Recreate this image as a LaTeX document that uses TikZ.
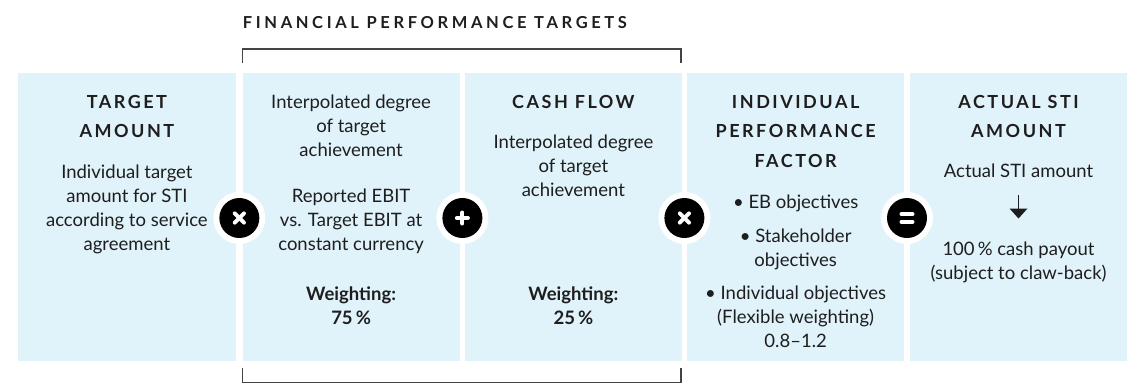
\documentclass[tikz,border=0pt]{standalone}
\usepackage{fontspec}
\setmainfont{Lato}
\newfontfamily\hdfont[LetterSpace=14]{Lato}
\newfontfamily\ttlfont[LetterSpace=22]{Lato}
\definecolor{panelblue}{HTML}{E0F2FA}
\definecolor{ink}{HTML}{1E1E1E}
\definecolor{brk}{HTML}{444444}
\tikzset{
  panel/.style={fill=panelblue, draw=none, minimum height=288pt, inner sep=0pt, outer sep=0pt},
  body/.style={anchor=base, inner sep=0pt, text=ink, font=\fontsize{18.5}{24}\selectfont},
  bodyb/.style={anchor=base, inner sep=0pt, text=ink, font=\fontsize{18.5}{24}\selectfont\bfseries},
  head/.style={anchor=base, inner sep=0pt, text=ink, font=\hdfont\fontsize{18}{24}\selectfont\bfseries},
  ttl/.style={anchor=base west, inner sep=0pt, text=ink, font=\ttlfont\fontsize{16.5}{20}\selectfont\bfseries},
  ring/.style={circle, fill=white, minimum size=52pt, inner sep=0pt},
  opdot/.style={circle, fill=black, minimum size=40pt, inner sep=0pt},
  sym/.style={draw=white, line width=4pt},
  bracketline/.style={draw=brk, line width=1.1pt},
}
\begin{document}
\begin{tikzpicture}[x=1pt,y=-1pt]
\useasboundingbox (0,0) rectangle (1130,384);
% panels
\node[panel, minimum width=218.4pt] (p1) at (126.9,216.7) {};
\node[panel, minimum width=216.8pt] (p2) at (351.1,216.7) {};
\node[panel, minimum width=216.2pt] (p3) at (573.4,216.7) {};
\node[panel, minimum width=216.7pt] (p4) at (795.65,216.7) {};
\node[panel, minimum width=217pt] (p5) at (1018.5,216.7) {};
% title
\node[ttl] (title) at (242.7,28) {FINANCIAL PERFORMANCE TARGETS};
% brackets
\coordinate (tA) at (242.7,63); \coordinate (tB) at (242.7,49);
\coordinate (tC) at (681,49); \coordinate (tD) at (681,63);
\draw[bracketline] (tA) -- (tB) -- (tC) -- (tD);
\coordinate (bA) at (242.7,368); \coordinate (bB) at (242.7,382.5);
\coordinate (bC) at (681,382.5); \coordinate (bD) at (681,368);
\draw[bracketline] (bA) -- (bB) -- (bC) -- (bD);
% panel 1
\node[head] (h1a) at (126.9,108) {TARGET};
\node[head] (h1b) at (126.9,137.5) {AMOUNT};
\foreach \t [count=\i from 0] in {Individual target,amount for STI,according to service,agreement}
  \node[body] (t1-\i) at (126.9,178+24*\i) {\t};
% panel 2
\foreach \t [count=\i from 0] in {Interpolated degree,of target,achievement}
  \node[body] (t2a-\i) at (351.1,108.5+24*\i) {\t};
\foreach \t [count=\i from 0] in {Reported EBIT,vs. Target EBIT at,constant currency}
  \node[body] (t2b-\i) at (351.1,202.5+24*\i) {\t};
\node[bodyb] (w2a) at (351.1,300.5) {Weighting:};
\node[bodyb] (w2b) at (351.1,324.5) {75\,\%};
% panel 3
\node[head] (h3a) at (573.4,108) {CASH FLOW};
\foreach \t [count=\i from 0] in {Interpolated degree,of target,achievement}
  \node[body] (t3-\i) at (573.4,148+24*\i) {\t};
\node[bodyb] (w3a) at (573.4,300.5) {Weighting:};
\node[bodyb] (w3b) at (573.4,324.5) {25\,\%};
% panel 4
\node[head] (h4a) at (795.65,108) {INDIVIDUAL};
\node[head] (h4b) at (795.65,137.5) {PERFORMANCE};
\node[head] (h4c) at (795.65,167) {FACTOR};
\node[body] (t4a) at (795.65,208.7) {• EB objectives};
\node[body] (t4b) at (795.65,242) {• Stakeholder};
\node[body] (t4c) at (795.65,266) {objectives};
\node[body] (t4d) at (795.65,299) {• Individual objectives};
\node[body] (t4e) at (795.65,323) {(Flexible weighting)};
\node[body] (t4f) at (795.65,347) {0.8–1.2};
% panel 5
\node[head] (h5a) at (1018.5,108) {ACTUAL STI};
\node[head] (h5b) at (1018.5,137.5) {AMOUNT};
\node[body] (t5a) at (1018.5,177) {Actual STI amount};
\coordinate (arA) at (1018.5,195);
\coordinate (arM) at (1018.5,209);
\coordinate (arL) at (1009.5,208.5);
\coordinate (arR) at (1027.5,208.5);
\coordinate (arB) at (1018.5,218.5);
\draw[draw=ink, line width=1.1pt] (arA) -- (arM);
\fill[ink] (arL) -- (arR) -- (arB) -- cycle;
\node[body] (t5b) at (1018.5,255) {100\,\% cash payout};
\node[body] (t5c) at (1018.5,279) {(subject to claw-back)};
% operators
\node[ring] (r1) at (239.35,218) {}; \node[opdot] (o1) at (r1) {};
\node[ring] (r2) at (462.4,218) {};  \node[opdot] (o2) at (r2) {};
\node[ring] (r3) at (684.4,218) {};  \node[opdot] (o3) at (r3) {};
\node[ring] (r4) at (907,218) {};    \node[opdot] (o4) at (r4) {};
% times
\draw[sym, line cap=round] ([xshift=-4.6pt,yshift=-4.6pt]o1.center) -- ([xshift=4.6pt,yshift=4.6pt]o1.center);
\draw[sym, line cap=round] ([xshift=-4.6pt,yshift=4.6pt]o1.center) -- ([xshift=4.6pt,yshift=-4.6pt]o1.center);
\draw[sym, line cap=round] ([xshift=-4.6pt,yshift=-4.6pt]o3.center) -- ([xshift=4.6pt,yshift=4.6pt]o3.center);
\draw[sym, line cap=round] ([xshift=-4.6pt,yshift=4.6pt]o3.center) -- ([xshift=4.6pt,yshift=-4.6pt]o3.center);
% plus
\draw[sym, line cap=round] ([xshift=-5.5pt]o2.center) -- ([xshift=5.5pt]o2.center);
\draw[sym, line cap=round] ([yshift=-5.5pt]o2.center) -- ([yshift=5.5pt]o2.center);
% equals
\draw[sym, line cap=round] ([xshift=-5.5pt,yshift=3.8pt]o4.center) -- ([xshift=5.5pt,yshift=3.8pt]o4.center);
\draw[sym, line cap=round] ([xshift=-5.5pt,yshift=-3.8pt]o4.center) -- ([xshift=5.5pt,yshift=-3.8pt]o4.center);
\end{tikzpicture}
\end{document}
